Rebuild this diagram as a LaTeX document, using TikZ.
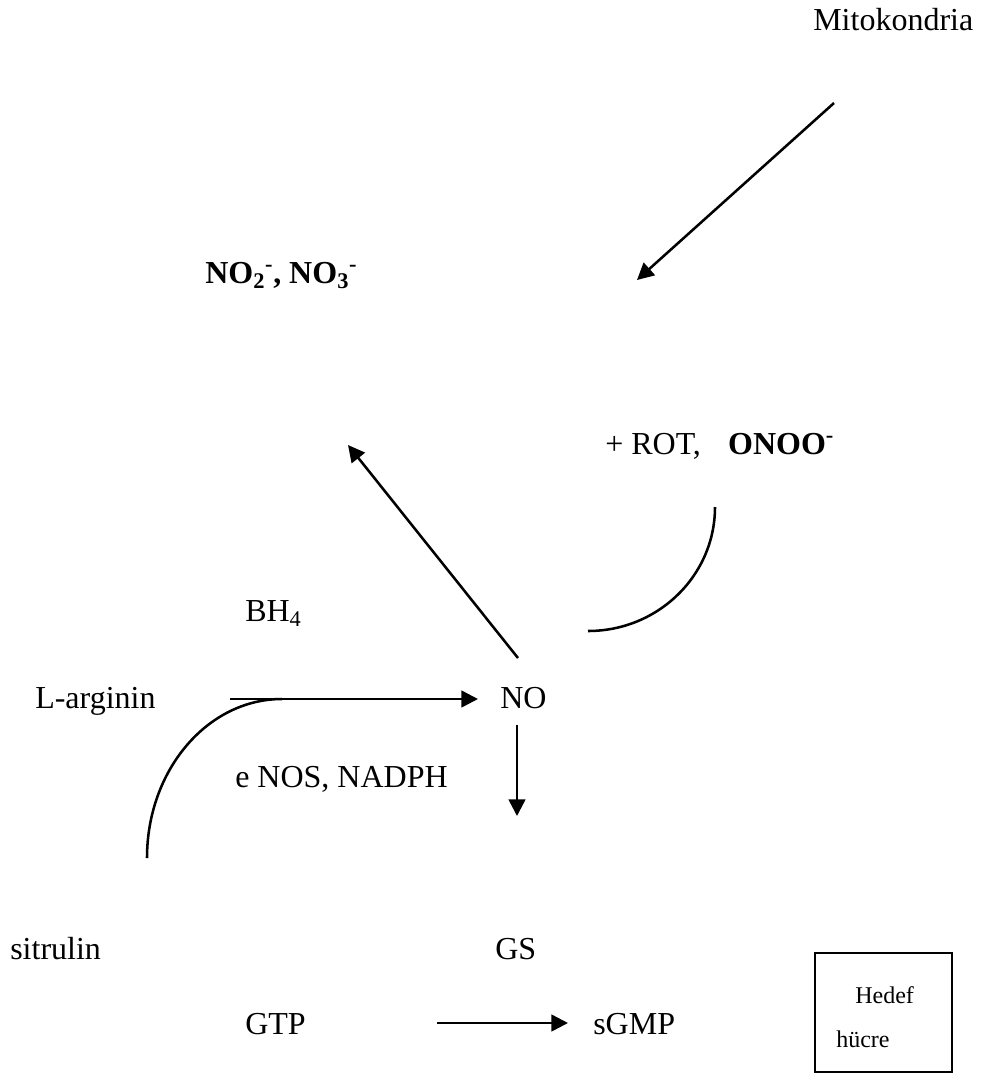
\documentclass[tikz,border=0pt]{standalone}
\usepackage{fontspec}
\setmainfont{Liberation Serif}
\usetikzlibrary{arrows.meta}
\begin{document}
\begin{tikzpicture}[x=0.75pt,y=-0.75pt,
  lbl/.style={anchor=mid west,inner sep=0pt,font=\fontsize{24}{28}\selectfont},
  small/.style={anchor=mid west,inner sep=0pt,font=\fontsize{18}{22}\selectfont},
  conn/.style={line width=1.9pt},
  arr/.style={conn,-{Triangle[length=12.5pt,width=12.5pt]}}]
\useasboundingbox (0,0) rectangle (982,1086);
% labels
\node[lbl] (mito) at (813,27) {Mitokondria};
\node[lbl] (nox) at (205,280) {\textbf{NO\textsubscript{2}\textsuperscript{-}, NO\textsubscript{3}\textsuperscript{-}}};
\node[lbl] (rot) at (605,451) {+ ROT,\hspace{0.85em}\textbf{ONOO\textsuperscript{-}}};
\node[lbl] (bh) at (245,618) {BH\textsubscript{4}};
\node[lbl] (larg) at (35,705) {L-arginin};
\node[lbl] (no) at (500,705) {NO};
\node[lbl] (enos) at (235,784) {e NOS, NADPH};
\node[lbl] (sit) at (10,956) {sitrulin};
\node[lbl] (gs) at (495,956) {GS};
\node[lbl] (gtp) at (245,1031) {GTP};
\node[lbl] (sgmp) at (593,1031) {sGMP};
% target cell box
\node[draw,line width=1.4pt,minimum width=137*0.75pt,minimum height=119*0.75pt,inner sep=0pt] (box) at (883.5,1012.5) {};
\node[small] (hedef) at (855,1000) {Hedef};
\node[small] (hucre) at (836,1044) {hücre};
% connector end points
\coordinate (m1) at (834,103);
\coordinate (m2) at (637,280);
\coordinate (n1) at (518,658);
\coordinate (n2) at (348,445);
\coordinate (a1) at (230,699);
\coordinate (a2) at (478,699);
\coordinate (d1) at (517,725);
\coordinate (d2) at (517,816);
\coordinate (g1) at (437,1023);
\coordinate (g2) at (568,1023);
\coordinate (r1) at (715,507);
\coordinate (s1) at (147,858);
% arrows
\draw[arr] (m1) -- (m2);
\draw[arr] (n1) -- (n2);
\draw[arr] (a1) -- (a2);
\draw[arr] (d1) -- (d2);
\draw[arr] (g1) -- (g2);
% curved connectors
\draw[conn] (r1) arc[start angle=0,end angle=90,x radius=127,y radius=124];
\draw[conn] (s1) arc[start angle=180,end angle=270,x radius=135,y radius=159];
\end{tikzpicture}
\end{document}
